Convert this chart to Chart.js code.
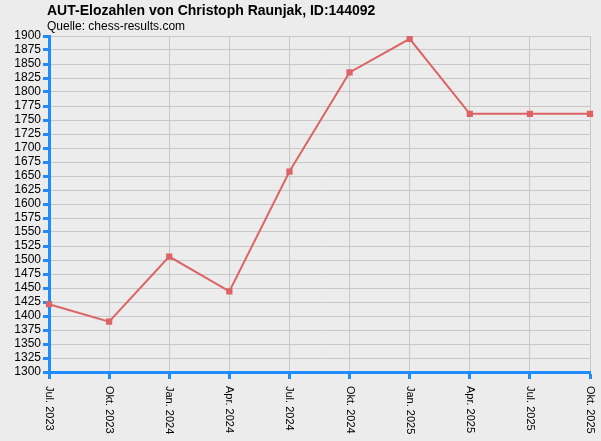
<!DOCTYPE html><html><head><script src="https://cdn.jsdelivr.net/npm/chart.js@4"></script>
<style>body{margin:0;background:#ececec}#w{width:601px;height:441px;position:relative}</style></head><body><div id="w"><canvas id="c"></canvas></div>
<script>
const categories=["Jul. 2023","Okt. 2023","Jan. 2024","Apr. 2024","Jul. 2024","Okt. 2024","Jan. 2025","Apr. 2025","Jul. 2025","Okt. 2025"];
const elo=[1421,1390,1506,1444,1658,1835,1895,1761,1761,1761];
const yMin=1300,yMax=1900,yStep=25;
const vLabels={id:'vl',afterDraw(ch){const c=ch.ctx,s=ch.scales.x;c.save();c.font='11px Arial';c.fillStyle='#000';c.textBaseline='middle';
categories.forEach((t,i)=>{const x=s.getPixelForValue(i);c.save();c.translate(x,s.top+14);c.rotate(Math.PI/2);c.fillText(t,0,0);c.restore();});
c.font='bold 14px Arial';c.fillText('AUT-Elozahlen von Christoph Raunjak, ID:144092',47,11);
c.font='12px Arial';c.fillText('Quelle: chess-results.com',47,27);c.restore();}};
new Chart(document.getElementById('c'),{type:'line',data:{labels:categories,datasets:[{data:elo,borderColor:'#dc6464',backgroundColor:'#dc6464',borderWidth:2,pointRadius:3,pointStyle:'rect',tension:0}]},
options:{responsive:true,maintainAspectRatio:false,animation:false,layout:{padding:{top:36,right:11,left:0,bottom:0}},
plugins:{legend:{display:false},tooltip:{enabled:false}},
scales:{x:{offset:false,afterFit(s){s.height=69},ticks:{display:false},grid:{color:'#c8c8c8',tickColor:'#1e8cff',tickLength:7,tickWidth:3},border:{color:'#1e8cff',width:3}},
y:{min:yMin,max:yMax,afterFit(s){s.width=49},ticks:{stepSize:yStep,color:'#000',font:{size:12,family:'Arial'},padding:2,autoSkip:false,callback:v=>String(v)},grid:{color:'#c8c8c8',tickColor:'#1e8cff',tickLength:6,tickWidth:3},border:{color:'#1e8cff',width:3}}}},plugins:[vLabels]});
</script></body></html>
